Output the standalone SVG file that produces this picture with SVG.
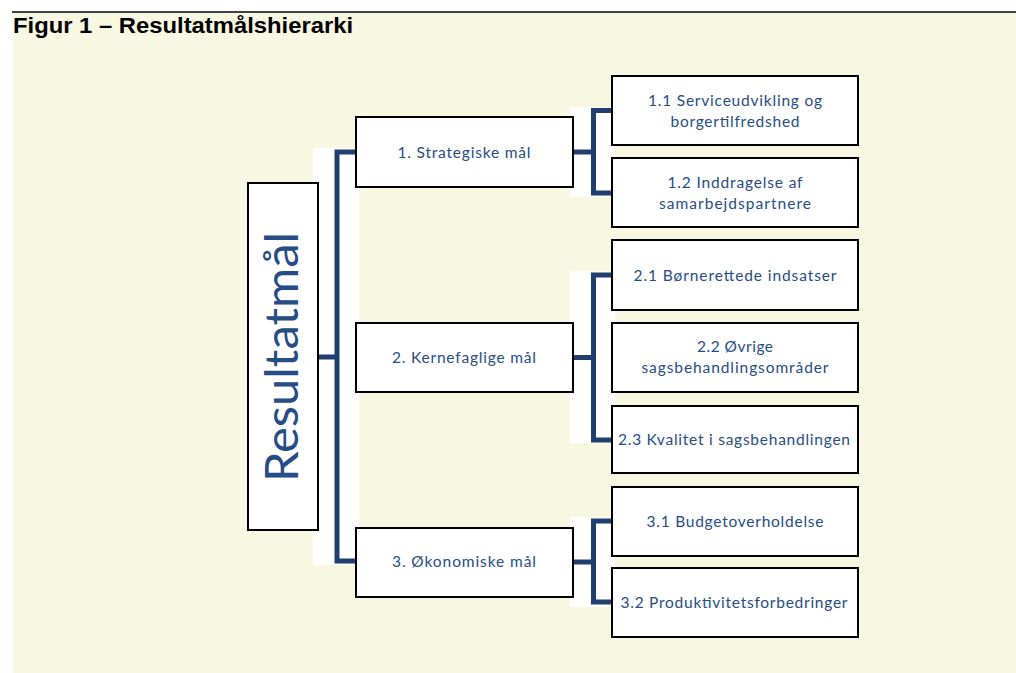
<svg xmlns="http://www.w3.org/2000/svg" width="1016" height="673" viewBox="0 0 1016 673">
<style>
.box{fill:#fff;stroke:#000;stroke-width:2}
.t{font-family:Lato,"Open Sans",sans-serif;font-size:15.5px;fill:#264d85;text-anchor:middle}
.c{fill:none;stroke:#1e3f6f;stroke-width:5;stroke-linecap:butt;stroke-linejoin:miter}
.wb{fill:#fff}
</style>
<rect x="0" y="0" width="1016" height="673" fill="#fff"/>
<rect x="13" y="13" width="1003" height="660" fill="#f8f8e2"/>
<line x1="12" y1="12" x2="1016" y2="12" stroke="#000" stroke-width="1.5"/>
<text x="13" y="33" font-family="'Liberation Sans',Arial,sans-serif" font-weight="bold" font-size="22" fill="#000" textLength="340" lengthAdjust="spacingAndGlyphs">Figur 1 – Resultatmålshierarki</text>

<g id="backdrops">
<rect class="wb" x="313" y="148" width="46" height="417"/>
<rect class="wb" x="570" y="107" width="45" height="90"/>
<rect class="wb" x="570" y="271" width="45" height="172"/>
<rect class="wb" x="570" y="517" width="45" height="90"/>
</g>

<g id="connectors">
<path class="c" d="M318,357 H337"/>
<path class="c" d="M356,152 H337 V561 H356"/>
<path class="c" d="M573,152 H593.5"/>
<path class="c" d="M612,110.5 H593.5 V193 H612"/>
<path class="c" d="M573,357.5 H593.5"/>
<path class="c" d="M612,275 H593.5 V440 H612"/>
<path class="c" d="M573,562 H593.5"/>
<path class="c" d="M612,521 H593.5 V602 H612"/>
</g>

<g id="root">
<rect class="box" x="248" y="183" width="70" height="347"/>
<text transform="translate(298,357) rotate(-90)" font-family="Lato,'Open Sans',sans-serif" font-size="46" fill="#264d85" text-anchor="middle" textLength="250" lengthAdjust="spacingAndGlyphs">Resultatmål</text>
</g>

<g id="n1">
<rect class="box" x="356" y="117" width="217" height="70"/>
<text class="t" x="464" y="157.5" textLength="133">1. Strategiske mål</text>
</g>
<g id="n2">
<rect class="box" x="356" y="323" width="217" height="69"/>
<text class="t" x="464" y="362.5" textLength="144">2. Kernefaglige mål</text>
</g>
<g id="n3">
<rect class="box" x="356" y="528" width="217" height="69"/>
<text class="t" x="464" y="567" textLength="144">3. Økonomiske mål</text>
</g>

<g id="n11">
<rect class="box" x="612" y="76" width="246" height="69"/>
<text class="t" x="735" y="106" textLength="174">1.1 Serviceudvikling og</text>
<text class="t" x="735" y="127" textLength="129">borgertilfredshed</text>
</g>
<g id="n12">
<rect class="box" x="612" y="158" width="246" height="69"/>
<text class="t" x="735" y="188" textLength="135">1.2 Inddragelse af</text>
<text class="t" x="735" y="209" textLength="152">samarbejdspartnere</text>
</g>
<g id="n21">
<rect class="box" x="612" y="240" width="246" height="70"/>
<text class="t" x="735" y="280.5" textLength="203">2.1 Børnerettede indsatser</text>
</g>
<g id="n22">
<rect class="box" x="612" y="323" width="246" height="69"/>
<text class="t" x="735" y="352" textLength="76">2.2 Øvrige</text>
<text class="t" x="735" y="373" textLength="187">sagsbehandlingsområder</text>
</g>
<g id="n23">
<rect class="box" x="612" y="406" width="246" height="67"/>
<text class="t" x="734" y="445" textLength="232">2.3 Kvalitet i sagsbehandlingen</text>
</g>
<g id="n31">
<rect class="box" x="612" y="487" width="246" height="69"/>
<text class="t" x="735" y="527" textLength="177">3.1 Budgetoverholdelse</text>
</g>
<g id="n32">
<rect class="box" x="612" y="568" width="246" height="69"/>
<text class="t" x="734" y="607.5" textLength="227">3.2 Produktivitetsforbedringer</text>
</g>
</svg>
